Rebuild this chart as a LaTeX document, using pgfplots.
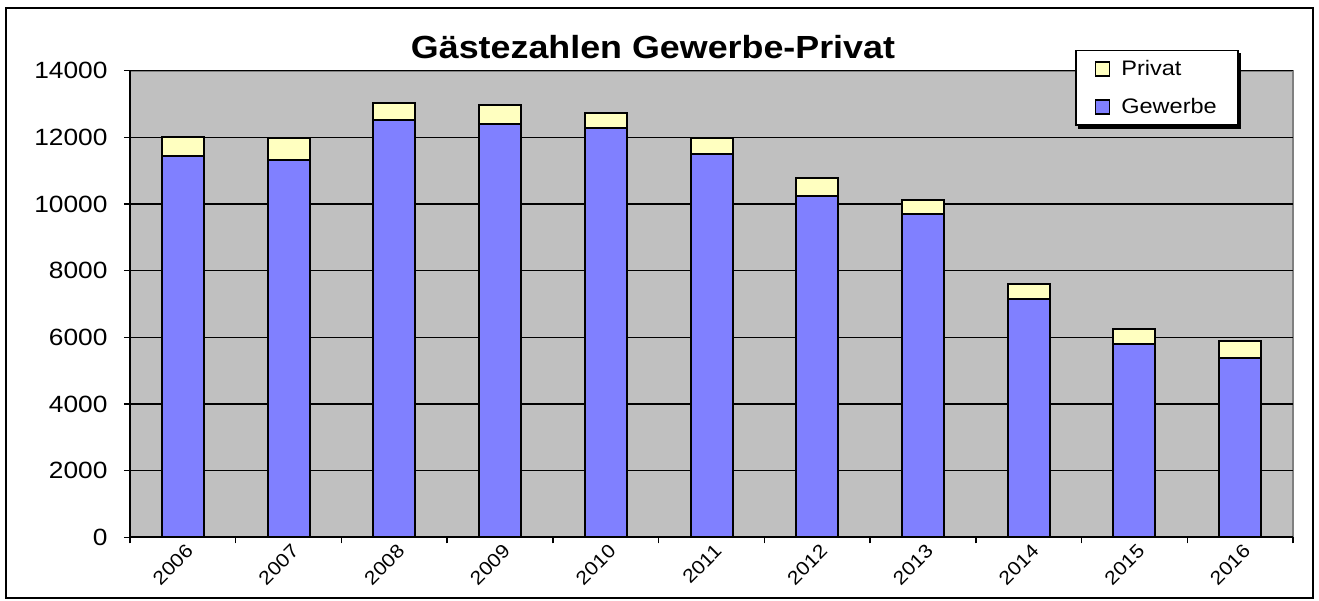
\documentclass[border=0pt]{standalone}
\usepackage{pgfplots}
\usepackage{pgfplotstable}
\pgfplotsset{compat=1.18}
\usepackage{fontspec}
\setmainfont[FakeStretch=1.12]{Liberation Sans}
\definecolor{gew}{HTML}{8080FF}
\definecolor{priv}{HTML}{FFFFC0}
\definecolor{plotbg}{HTML}{C0C0C0}
\definecolor{frame}{HTML}{808080}

\pgfplotstableread{
x year gew priv
0 2006 11450 550
1 2007 11330 660
2 2008 12530 500
3 2009 12410 560
4 2010 12290 430
5 2011 11500 490
6 2012 10230 550
7 2013 9690 420
8 2014 7140 450
9 2015 5810 430
10 2016 5390 490
}\data

\begin{document}
\begin{tikzpicture}[x=1pt,y=1pt]
\useasboundingbox (0,0) rectangle (1319,600);
\draw[line width=2pt] (6,2) rectangle (1313,592);
\begin{axis}[
  at={(130pt,62.7pt)}, anchor=south west,
  width=1163pt, height=466.6pt, scale only axis,
  ybar stacked, bar width=42pt,
  xmin=-0.5, xmax=10.5, ymin=0, ymax=14000,
  ytick={0,2000,...,14000},
  xtick={0,...,10},
  xticklabels={2006,2007,2008,2009,2010,2011,2012,2013,2014,2015,2016},
  minor xtick={-0.5,0.5,...,10.5},
  scaled y ticks=false,
  /pgf/number format/.cd, 1000 sep={}, assume math mode=true, /pgfplots/.cd,
  axis x line*=bottom, axis y line*=left,
  axis line style={-, black, line width=2pt},
  axis background/.style={fill=plotbg, draw=frame, line width=2pt},
  ymajorgrids, grid style={black, line width=1.5pt},
  tick align=outside, major tick length=6pt, minor tick length=6pt,
  major x tick style={draw=none},
  minor x tick style={black, line width=1.5pt},
  y tick style={black, line width=1.5pt},
  yticklabel style={font=\fontsize{23.5}{23.5}\selectfont, xshift=-13pt},
  xticklabel style={rotate=45, anchor=east, font=\fontsize{19}{19}\selectfont, xshift=5pt, yshift=-8pt},
  title={Gästezahlen Gewerbe-Privat},
  title style={at={(0.4497,1.038)}, anchor=center, font=\bfseries\fontsize{32}{32}\selectfont},
  legend style={name=leg, at={(0.8126,1.0444)}, anchor=north west, draw=black, line width=1.5pt,
    fill=white, font=\fontsize{21}{21}\selectfont, row sep=17pt,
    inner xsep=19pt, inner ysep=8pt,
    /tikz/every odd column/.append style={column sep=9pt}},
  legend cell align=left,
  reverse legend,
  legend image code/.code={\draw[#1, line width=1.5pt] (0pt,-7pt) rectangle (14pt,7pt);},
]
\addplot[fill=gew, draw=black, line width=2pt] table[x=x,y=gew]{\data};
\addlegendentry{Gewerbe}
\addplot[fill=priv, draw=black, line width=2pt] table[x=x,y=priv]{\data};
\addlegendentry{Privat}
\end{axis}
\draw[line width=2.5pt] ([xshift=3pt,yshift=-1.5pt]leg.south west) -- ([xshift=1.5pt,yshift=-1.5pt]leg.south east) -- ([xshift=1.5pt,yshift=-3pt]leg.north east);
\end{tikzpicture}
\end{document}
